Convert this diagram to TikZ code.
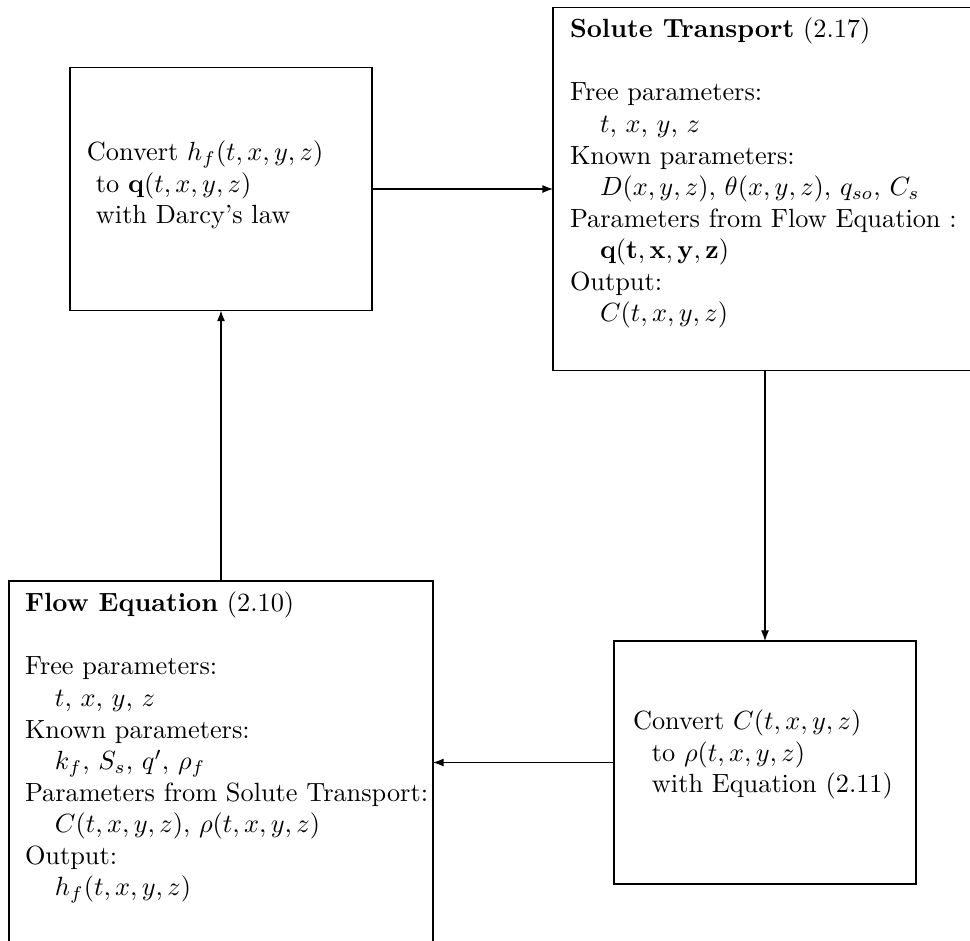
\documentclass[tikz,border=0pt]{standalone}
\usetikzlibrary{arrows.meta}
\begin{document}
\begin{tikzpicture}[x=0.38pt,y=-0.38pt,
  boxsmall/.style={draw,line width=0.4pt,minimum width=114.76pt,minimum height=92.34pt,inner sep=0pt,outer sep=0pt},
  boxbig/.style={draw,line width=0.4pt,minimum width=161.12pt,minimum height=137.94pt,inner sep=0pt,outer sep=0pt},
  txt/.style={anchor=north west,align=left,inner sep=0pt,outer sep=0pt},
  conn/.style={-{Latex[length=4pt,width=3pt]},line width=0.4pt}]
\useasboundingbox (0,0) rectangle (970,941);
\newcommand{\indtl}{\hspace*{3.4pt}}
\newcommand{\indbr}{\hspace*{7.2pt}}
\newcommand{\indp}{\hspace*{11.4pt}}
\node[boxsmall] (tl) at (221,189) {};
\node[boxbig] (tr) at (765,189) {};
\node[boxbig] (bl) at (221,762.5) {};
\node[boxsmall] (br) at (765,762.5) {};
\node[txt] (tltext) at (87,141) {Convert $h_f(t,x,y,z)$\\
\indtl to $\mathbf{q}(t,x,y,z)$\\
\indtl with Darcy's law};
\node[txt] (trtext) at (570,18) {\textbf{Solute Transport} (2.17)\\[12pt]
Free parameters:\\
\indp $t$, $x$, $y$, $z$\\
Known parameters:\\
\indp $D(x,y,z)$, $\theta(x,y,z)$, $q_{so}$, $C_s$\\
Parameters from Flow Equation :\\
\indp $\mathbf{q(t,x,y,z)}$\\
Output:\\
\indp $C(t,x,y,z)$};
\node[txt] (bltext) at (25,592) {\textbf{Flow Equation} (2.10)\\[12pt]
Free parameters:\\
\indp $t$, $x$, $y$, $z$\\
Known parameters:\\
\indp $k_f$, $S_s$, $q'$, $\rho_f$\\
Parameters from Solute Transport:\\
\indp $C(t,x,y,z)$, $\rho(t,x,y,z)$\\
Output:\\
\indp $h_f(t,x,y,z)$};
\node[txt] (brtext) at (633,710) {Convert $C(t,x,y,z)$\\
\indbr to $\rho(t,x,y,z)$\\
\indbr with Equation (2.11)};
\draw[conn] (tl) -- (tr);
\draw[conn] (tr) -- (br);
\draw[conn] (br) -- (bl);
\draw[conn] (bl) -- (tl);
\end{tikzpicture}
\end{document}
